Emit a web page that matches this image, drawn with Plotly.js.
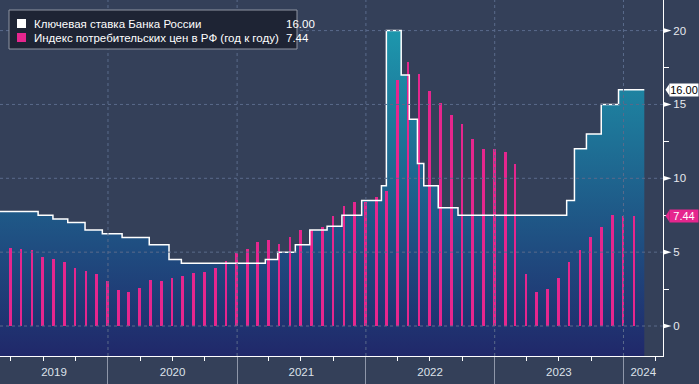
<!DOCTYPE html>
<html><head><meta charset="utf-8">
<script src="https://cdn.plot.ly/plotly-3.0.1.min.js"></script>
<style>html,body{margin:0;padding:0;background:#344059;}#chart{width:699px;height:384px;}</style>
</head><body><div id="chart"></div>
<script>
// Key rate of the Bank of Russia (change dates, values)
const rateDates = ['2019-03-01','2019-06-17','2019-07-29','2019-09-09','2019-10-28','2019-12-16',
  '2020-02-10','2020-04-27','2020-06-22','2020-07-27',
  '2021-03-22','2021-04-26','2021-06-15','2021-07-26','2021-09-13','2021-10-25','2021-12-20',
  '2022-02-14','2022-02-28','2022-04-11','2022-05-04','2022-05-27','2022-06-14','2022-07-25','2022-09-19',
  '2023-07-24','2023-08-15','2023-09-18','2023-10-30','2023-12-18','2024-02-29'];
const rateValues = [7.75,7.5,7.25,7.0,6.5,6.25,
  6.0,5.5,4.5,4.25,
  4.5,5.0,5.5,6.5,6.75,7.5,8.5,
  9.5,20,17,14,11,9.5,8,7.5,
  8.5,12,13,15,16,16];

// CPI y/y, monthly (month-end)
const cpiDates = ['2019-03-31','2019-04-30','2019-05-31','2019-06-30','2019-07-31','2019-08-31','2019-09-30','2019-10-31','2019-11-30','2019-12-31',
  '2020-01-31','2020-02-29','2020-03-31','2020-04-30','2020-05-31','2020-06-30','2020-07-31','2020-08-31','2020-09-30','2020-10-31','2020-11-30','2020-12-31',
  '2021-01-31','2021-02-28','2021-03-31','2021-04-30','2021-05-31','2021-06-30','2021-07-31','2021-08-31','2021-09-30','2021-10-31','2021-11-30','2021-12-31',
  '2022-01-31','2022-02-28','2022-03-31','2022-04-30','2022-05-31','2022-06-30','2022-07-31','2022-08-31','2022-09-30','2022-10-31','2022-11-30','2022-12-31',
  '2023-01-31','2023-02-28','2023-03-31','2023-04-30','2023-05-31','2023-06-30','2023-07-31','2023-08-31','2023-09-30','2023-10-31','2023-11-30','2023-12-31',
  '2024-01-31'];
const cpiValues = [5.25,5.2,5.14,4.64,4.57,4.3,3.96,3.72,3.49,3.04,
  2.43,2.3,2.55,3.11,3.04,3.24,3.36,3.58,3.65,3.96,4.41,4.95,
  5.2,5.68,5.81,5.54,6.01,6.49,6.49,6.71,7.43,8.11,8.38,8.38,
  8.72,9.12,16.67,17.84,17.09,15.88,15.07,14.3,13.65,12.64,11.96,11.96,
  11.76,10.99,3.51,2.27,2.5,3.27,4.32,5.16,6.01,6.69,7.5,7.43,
  7.44];

const seriesNames = ['Ключевая ставка Банка России','Индекс потребительских цен в РФ (год к году)'];
const lastValues = ['16.00','7.44'];
const yearLabels = ['2019','2020','2021','2022','2023','2024'];
const yearLabelDates = ['2019-08-01','2020-07-02','2021-07-02','2022-07-02','2023-07-02','2024-02-26'];
const yearBounds = ['2020-01-01','2021-01-01','2022-01-01','2023-01-01','2024-01-01'];
const quarterTicks = ['2019-04-01','2019-07-01','2019-10-01','2020-04-01','2020-07-01','2020-10-01',
  '2021-04-01','2021-07-01','2021-10-01','2022-04-01','2022-07-01','2022-10-01',
  '2023-04-01','2023-07-01','2023-10-01','2024-04-01'];
const yTicks = [0,5,10,15,20];
const yMinorTicks = [2.5,7.5,12.5,17.5];

const xRange = ['2019-03-01','2024-04-22'];
const yRange = [-2.03, 22.07];
const BG = '#344059';
const PINK = '#e6268e';
const FONT = 'Liberation Sans, Arial, sans-serif';
const PW = 663, PH = 356;
const UNIT = PH / (yRange[1] - yRange[0]); // px per y unit
const px = v => v / PW;
const py = v => 1 - v / PH;

const traces = [
  { x: [rateDates[0], rateDates[rateDates.length-1]], y: [yRange[0]-1, yRange[0]-1],
    mode: 'lines', line: {width: 0}, hoverinfo: 'skip', showlegend: false, xaxis: 'x', yaxis: 'y' },
  { x: rateDates, y: rateValues, mode: 'lines', line: {width: 0, shape: 'hv'},
    fill: 'tonexty',
    fillgradient: {type: 'vertical', start: yRange[0], stop: 20,
      colorscale: [[0, '#20286a'], [1, '#1d97ad']]},
    showlegend: false, xaxis: 'x', yaxis: 'y' },
  { type: 'bar', x: cpiDates, y: cpiValues, width: 7.5*86400000,
    marker: {color: PINK, line: {width: 0}}, showlegend: false, xaxis: 'x2', yaxis: 'y2' },
  { x: rateDates, y: rateValues, mode: 'lines', line: {color: '#ffffff', width: 1.5, shape: 'hv'},
    showlegend: false, xaxis: 'x2', yaxis: 'y2' }
];

const shapes = [];
yTicks.forEach(v => shapes.push({type: 'line', xref: 'paper', yref: 'y', x0: 0, x1: 1, y0: v, y1: v,
  line: {color: '#5a6a8b', width: 1, dash: 'dot'}, layer: 'above'}));
yearBounds.forEach(d => shapes.push({type: 'line', xref: 'x', yref: 'paper', x0: d, x1: d, y0: 0, y1: 1,
  line: {color: '#5a6a8b', width: 1, dash: 'dot'}, layer: 'above'}));
// arrow-shaped major ticks on the right axis
yTicks.forEach(v => shapes.push({type: 'path', xref: 'paper', yref: 'y',
  path: `M ${px(663)} ${v + 2.6/UNIT} L ${px(671.5)} ${v} L ${px(663)} ${v - 2.6/UNIT} Z`,
  fillcolor: '#ffffff', line: {width: 0}, layer: 'above'}));
// legend box
shapes.push({type: 'rect', xref: 'paper', yref: 'paper', x0: px(9), x1: px(297), y0: py(49), y1: py(10),
  fillcolor: '#1e2434', line: {color: '#8f95a3', width: 1}, layer: 'above'});
shapes.push({type: 'rect', xref: 'paper', yref: 'paper', x0: px(17), x1: px(26), y0: py(28), y1: py(19),
  fillcolor: '#ffffff', line: {width: 0}, layer: 'above'});
shapes.push({type: 'rect', xref: 'paper', yref: 'paper', x0: px(17), x1: px(26), y0: py(42), y1: py(33),
  fillcolor: PINK, line: {width: 0}, layer: 'above'});
// right-side value tags pointers
const tagVals = [rateValues[rateValues.length-1], cpiValues[cpiValues.length-1]];
const tagFill = ['#ffffff', PINK];
tagVals.forEach((v, i) => shapes.push({type: 'path', xref: 'paper', yref: 'y',
  path: `M ${px(665.5)} ${v} L ${px(669.5)} ${v + 6/UNIT} L ${px(669.5)} ${v - 6/UNIT} Z`,
  fillcolor: tagFill[i], line: {width: 0}, layer: 'above'}));

const annotations = [];
seriesNames.forEach((n, i) => {
  annotations.push({xref: 'paper', yref: 'paper', x: px(32), y: py(24 + 14*i), xanchor: 'left', yanchor: 'middle',
    text: n, showarrow: false, font: {family: FONT, size: 11.5, color: '#ffffff'}});
  annotations.push({xref: 'paper', yref: 'paper', x: px(284), y: py(24 + 14*i), xanchor: 'left', yanchor: 'middle',
    text: lastValues[i], showarrow: false, font: {family: FONT, size: 11.5, color: '#ffffff'}});
  annotations.push({xref: 'paper', yref: 'y', x: px(669), y: tagVals[i], xanchor: 'left', yanchor: 'middle',
    text: lastValues[i], showarrow: false, bgcolor: tagFill[i], borderpad: 0, width: 28, height: 12, align: 'center',
    font: {family: FONT, size: 11, color: i === 0 ? '#000000' : '#ffffff'}});
});

const layout = {
  width: 699, height: 384,
  margin: {l: 0, r: 36, t: 0, b: 28},
  paper_bgcolor: BG, plot_bgcolor: BG,
  bargap: 0,
  xaxis: {type: 'date', range: xRange, tickvals: yearLabelDates, ticktext: yearLabels,
    ticks: '', showgrid: false, zeroline: false, showline: true, linecolor: '#ffffff', linewidth: 1,
    tickfont: {family: FONT, size: 11.5, color: '#dde2ea'}, ticklabelstandoff: 5,
    minor: {tickvals: quarterTicks, ticks: 'outside', ticklen: 4, tickcolor: '#ffffff', showgrid: false}},
  yaxis: {range: yRange, side: 'right', tickvals: yTicks, ticktext: yTicks.map(String),
    ticks: '', showgrid: false, zeroline: false, showline: true, linecolor: '#ffffff', linewidth: 1,
    tickfont: {family: FONT, size: 11.5, color: '#e6e9ee'}, ticklabelstandoff: 7,
    minor: {tickvals: yMinorTicks, ticks: 'outside', ticklen: 5, tickcolor: '#ffffff', showgrid: false}},
  xaxis2: {type: 'date', overlaying: 'x', range: xRange, tickvals: yearBounds, ticks: 'outside', ticklen: 28,
    tickcolor: '#8e96a9', tickwidth: 1, showticklabels: false, showgrid: false, zeroline: false, showline: false},
  yaxis2: {overlaying: 'y', range: yRange, visible: false},
  shapes: shapes,
  annotations: annotations,
  showlegend: false
};

Plotly.newPlot('chart', traces, layout, {displayModeBar: false, staticPlot: true});
</script>
</body></html>
